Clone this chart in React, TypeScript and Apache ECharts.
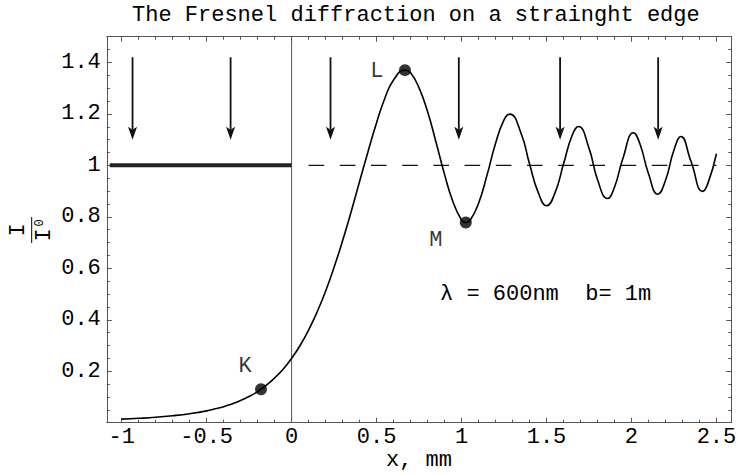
import React, { useEffect, useRef } from "react";
import * as echarts from "echarts";

// Relative intensity I/I0 behind a straight edge, x in mm
const curveX = [
  -1, -0.9, -0.8, -0.7, -0.6, -0.5, -0.45, -0.4, -0.35, -0.3, -0.25, -0.2, -0.15, -0.1, -0.05,
  0, 0.05, 0.1, 0.15, 0.2, 0.25, 0.3, 0.35, 0.4, 0.45, 0.5, 0.55, 0.6, 0.667, 0.7, 0.75, 0.8,
  0.85, 0.9, 0.95, 1.0, 1.025, 1.05, 1.1, 1.15, 1.2, 1.25, 1.284, 1.35, 1.4, 1.45, 1.5, 1.55,
  1.6, 1.65, 1.688, 1.75, 1.8, 1.859, 1.9, 1.95, 2.012, 2.05, 2.1, 2.155, 2.2, 2.25, 2.291,
  2.35, 2.419, 2.45, 2.5,
];
const curveY = [
  0.014, 0.017, 0.021, 0.027, 0.035, 0.046, 0.054, 0.062, 0.073, 0.086, 0.102, 0.121, 0.145, 0.174, 0.208,
  0.25, 0.3, 0.36, 0.43, 0.511, 0.604, 0.707, 0.819, 0.937, 1.054, 1.166, 1.263, 1.332, 1.37, 1.36, 1.301, 1.209,
  1.09, 0.965, 0.858, 0.787, 0.778, 0.786, 0.852, 0.962, 1.085, 1.177, 1.199, 1.125, 1.006, 0.897, 0.843, 0.893,
  1.005, 1.115, 1.151, 1.067, 0.945, 0.871, 0.915, 1.028, 1.127, 1.083, 0.968, 0.888, 0.941, 1.06, 1.112,
  1.016, 0.899, 0.93, 1.045,
];

// Marked points
const pointNames = ["K", "L", "M"];
const pointX = [-0.18, 0.667, 1.025];
const pointY = [0.13, 1.37, 0.778];

// Down arrows
const arrowX = [-0.936, -0.359, 0.229, 0.984, 1.58, 2.157];
const arrowTop = 1.42;
const arrowTip = 1.1;

// Unobstructed level (thick, left) and its dashed continuation (right)
const fullLevel = 1;
const solidFrom = -1.07;
const solidTo = 0;
const dashFrom = 0.1;
const dashTo = 2.5;

// Axes
const X_MIN = -1.0875;
const X_MAX = 2.5875;
const Y_MIN = 0;
const Y_MAX = 1.5;
const xMajorTicks = [-1, -0.5, 0, 0.5, 1, 1.5, 2, 2.5];
const xMinorTicks = [
  -0.9, -0.8, -0.7, -0.6, -0.4, -0.3, -0.2, -0.1, 0.1, 0.2, 0.3, 0.4, 0.6, 0.7, 0.8, 0.9,
  1.1, 1.2, 1.3, 1.4, 1.6, 1.7, 1.8, 1.9, 2.1, 2.2, 2.3, 2.4,
];
const yMajorTicks = [0, 0.2, 0.4, 0.6, 0.8, 1, 1.2, 1.4];
const yLabelTicks = [0.2, 0.4, 0.6, 0.8, 1, 1.2, 1.4];
const yMinorTicks = [
  0.05, 0.1, 0.15, 0.25, 0.3, 0.35, 0.45, 0.5, 0.55, 0.65, 0.7, 0.75, 0.85, 0.9, 0.95,
  1.05, 1.1, 1.15, 1.25, 1.3, 1.35, 1.45, 1.5,
];

const titleText = "The Fresnel diffraction on a strainght edge";
const paramText = "λ = 600nm  b= 1m";
const xName = "x, mm";

const FONT = "'Liberation Mono', 'DejaVu Sans Mono', monospace";
const FRAME = "#555";
const labelOffsets = [
  [-16, -23],
  [-28, 1],
  [-30, 18],
];

function xAxisDef(position: "bottom" | "top", ticks: number[], len: number, withLine: boolean, withLabels: boolean) {
  return {
    type: "value",
    min: X_MIN,
    max: X_MAX,
    position,
    axisLine: { show: withLine, onZero: false, lineStyle: { color: FRAME, width: 1 } },
    axisTick: { show: true, inside: true, length: len, customValues: ticks, lineStyle: { color: FRAME, width: 1 } },
    axisLabel: withLabels
      ? { show: true, customValues: xMajorTicks, margin: 4, fontSize: 22, fontFamily: FONT, color: "#000" }
      : { show: false },
    splitLine: { show: false },
  } as any;
}

function yAxisDef(position: "left" | "right", ticks: number[], len: number, withLine: boolean, withLabels: boolean) {
  return {
    type: "value",
    min: Y_MIN,
    max: Y_MAX,
    position,
    axisLine: { show: withLine, onZero: false, lineStyle: { color: FRAME, width: 1 } },
    axisTick: { show: true, inside: true, length: len, customValues: ticks, lineStyle: { color: FRAME, width: 1 } },
    axisLabel: withLabels
      ? { show: true, customValues: yLabelTicks, margin: 6, fontSize: 22, fontFamily: FONT, color: "#000" }
      : { show: false },
    splitLine: { show: false },
  } as any;
}

export default function App() {
  const ref = useRef<HTMLDivElement>(null);

  useEffect(() => {
    if (!ref.current) return;
    const chart = echarts.init(ref.current, null, { renderer: "svg" });

    const curve = curveX.map((x, i) => [x, curveY[i]]);

    const option: any = {
      animation: false,
      backgroundColor: "#fff",
      grid: {
        left: 106.8,
        right: 5.7,
        top: 36.7,
        bottom: 51.3,
        containLabel: false,
        outerBoundsMode: "none",
      },
      xAxis: [
        xAxisDef("bottom", xMajorTicks, 5, true, true),
        xAxisDef("bottom", xMinorTicks, 3, false, false),
        xAxisDef("top", xMajorTicks, 5, true, false),
        xAxisDef("top", xMinorTicks, 3, false, false),
      ],
      yAxis: [
        yAxisDef("left", yMajorTicks, 5, true, true),
        yAxisDef("left", yMinorTicks, 3, false, false),
        yAxisDef("right", yMajorTicks, 5, true, false),
        yAxisDef("right", yMinorTicks, 3, false, false),
      ],
      graphic: [
        {
          type: "text",
          x: 132,
          y: 15,
          style: { text: titleText, fontSize: 22, fontFamily: FONT, fill: "#000", align: "left", verticalAlign: "middle" },
        },
        {
          type: "text",
          x: 440,
          y: 294,
          style: { text: paramText, fontSize: 22, fontFamily: FONT, fill: "#000", align: "left", verticalAlign: "middle" },
        },
        // x-axis title under the tick labels
        {
          type: "text",
          x: 419,
          y: 460,
          style: { text: xName, fontSize: 22, fontFamily: FONT, fill: "#000", align: "center", verticalAlign: "middle" },
        },
        // I / I0 axis title, turned on its side
        {
          type: "text",
          x: 18,
          y: 230,
          rotation: Math.PI / 2,
          style: { text: "I", fontSize: 22, fontFamily: FONT, fill: "#000", align: "center", verticalAlign: "middle" },
        },
        {
          type: "line",
          shape: { x1: 31.7, y1: 217, x2: 31.7, y2: 243 },
          style: { stroke: "#000", lineWidth: 1 },
        },
        {
          type: "text",
          x: 44,
          y: 235,
          rotation: Math.PI / 2,
          style: { text: "I", fontSize: 22, fontFamily: FONT, fill: "#000", align: "center", verticalAlign: "middle" },
        },
        {
          type: "text",
          x: 40,
          y: 223,
          rotation: Math.PI / 2,
          style: { text: "0", fontSize: 12, fontFamily: FONT, fill: "#000", align: "center", verticalAlign: "middle" },
        },
      ],
      series: [
        {
          type: "line",
          data: [
            [0, Y_MIN],
            [0, Y_MAX],
          ],
          symbol: "none",
          lineStyle: { color: "#555", width: 1 },
          silent: true,
          z: 1,
        },
        {
          type: "line",
          data: [
            [solidFrom, fullLevel],
            [solidTo, fullLevel],
          ],
          symbol: "none",
          lineStyle: { color: "#222", width: 4, cap: "butt" },
          silent: true,
          z: 2,
        },
        {
          type: "line",
          data: [
            [dashFrom, fullLevel],
            [dashTo, fullLevel],
          ],
          symbol: "none",
          lineStyle: { color: "#111", width: 1.2, type: [15.6, 15.6] },
          silent: true,
          z: 2,
        },
        {
          type: "line",
          data: curve,
          symbol: "none",
          smooth: 0.5,
          lineStyle: { color: "#000", width: 1.6 },
          silent: true,
          z: 3,
        },
        {
          type: "custom",
          data: arrowX.map((x) => [x]),
          silent: true,
          z: 4,
          renderItem: (params: any, api: any) => {
            const x = api.value(0);
            const top = api.coord([x, arrowTop]);
            const tip = api.coord([x, arrowTip]);
            const headLen = 13;
            const headHalf = 4.5;
            const notch = 3;
            return {
              type: "group",
              children: [
                {
                  type: "line",
                  shape: { x1: top[0], y1: top[1], x2: tip[0], y2: tip[1] - headLen + notch },
                  style: { stroke: "#111", lineWidth: 1.8 },
                },
                {
                  type: "polygon",
                  shape: {
                    points: [
                      [tip[0], tip[1]],
                      [tip[0] - headHalf, tip[1] - headLen],
                      [tip[0], tip[1] - headLen + notch],
                      [tip[0] + headHalf, tip[1] - headLen],
                    ],
                  },
                  style: { fill: "#111" },
                },
              ],
            };
          },
        },
        {
          type: "scatter",
          data: pointX.map((x, i) => ({
            value: [x, pointY[i]],
            label: { offset: labelOffsets[i] },
          })),
          symbol: "circle",
          symbolSize: 12,
          itemStyle: { color: "#000" },
          silent: true,
          z: 5,
          label: {
            show: true,
            position: "inside",
            formatter: (p: any) => pointNames[p.dataIndex],
            fontSize: 22,
            fontFamily: FONT,
            color: "#000",
          },
        },
      ],
    };

    chart.setOption(option);
    return () => chart.dispose();
  }, []);

  return (
    <div
      ref={ref}
      style={{ position: "absolute", left: 0, top: 0, width: 737, height: 474, background: "#fff" }}
    />
  );
}
